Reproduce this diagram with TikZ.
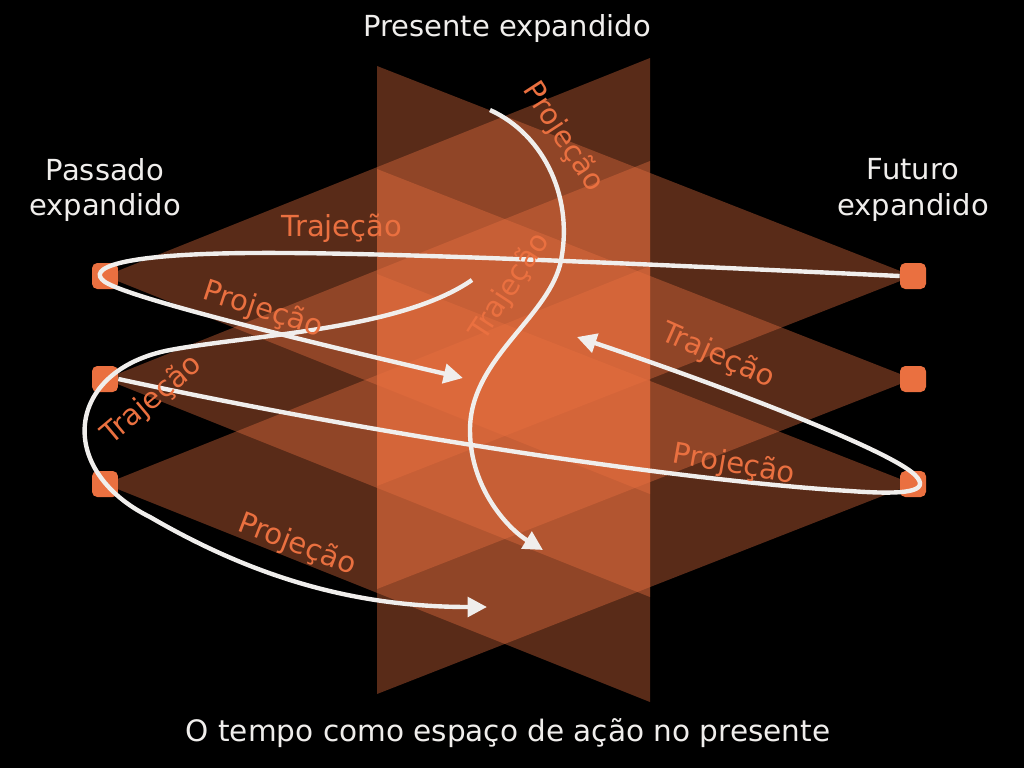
\documentclass[tikz,border=0pt]{standalone}
\usepackage{fontspec}
\setmainfont{DejaVu Sans}
\definecolor{ember}{RGB}{234,112,64}
\definecolor{chalk}{RGB}{240,238,236}
\usetikzlibrary{arrows.meta}

\begin{document}
\begin{tikzpicture}[x=0.02cm, y=-0.02cm,
  dot/.style={fill=ember, rounded corners=3pt, minimum size=0.52cm, inner sep=0pt},
  cone/.style={fill=ember, fill opacity=0.385},
  lbl/.style={text=ember, font=\fontsize{16.5}{20}\selectfont, inner sep=0pt},
  head/.style={text=chalk, align=center, font=\fontsize{16.5}{20}\selectfont},
  flow/.style={draw=chalk, line width=2.5pt, -{Triangle[length=11pt,width=11pt]}}]
  % background
  \fill[black] (0,0) rectangle (1024,768);

  % cones from past and future
  \foreach \y in {276,379,484} {
    \fill[cone] (105,\y) -- (650,\y-218) -- (650,\y+218) -- cycle;
    \fill[cone] (913,\y) -- (377,\y-210) -- (377,\y+210) -- cycle;
  }

  % points
  \node[dot] (p1) at (105,276) {};
  \node[dot] (p2) at (105,379) {};
  \node[dot] (p3) at (105,484) {};
  \node[dot] (f1) at (913,276) {};
  \node[dot] (f2) at (913,379) {};
  \node[dot] (f3) at (913,484) {};

  % titles
  \node[head] (present) at (507,28) {Presente expandido};
  \node[head] (past) at (105,190) {Passado\\expandido};
  \node[head] (future) at (913,190) {Futuro\\expandido};
  \node[head, font=\fontsize{16.8}{20}\selectfont] (caption) at (508,733) {O tempo como espaço de ação no presente};

  % free ends
  \coordinate (e1) at (463,378);
  \coordinate (s2) at (472,280);
  \coordinate (e2) at (487,607);
  \coordinate (e3) at (577,337);
  \coordinate (s4) at (490,110);
  \coordinate (e4) at (543,550);

  % loops
  \draw[flow] (f1.west) .. controls (600,262) and (380,252) .. (250,253)
    .. controls (120,254) and (85,268) .. (105,282)
    .. controls (130,298) and (300,340) .. (e1);
  \draw[flow] (s2) .. controls (400,330) and (250,335) .. (170,350)
    .. controls (65,370) and (55,470) .. (150,517)
    .. controls (250,575) and (350,607) .. (e2);
  \draw[flow] (p2.east) .. controls (400,440) and (700,482) .. (850,491)
    .. controls (905,495) and (932,492) .. (915,475)
    .. controls (890,450) and (720,385) .. (e3);
  \draw[flow] (s4) .. controls (545,135) and (575,200) .. (560,265)
    .. controls (545,320) and (470,360) .. (470,430)
    .. controls (470,490) and (510,530) .. (e4);

  % labels
  \node[lbl] (t1) at (342,228) {Trajeção};
  \node[lbl, rotate=-18] (r1) at (263,310) {Projeção};
  \node[lbl, rotate=40] (t2) at (152,400) {Trajeção};
  \node[lbl, rotate=-21] (r2) at (297,545) {Projeção};
  \node[lbl, rotate=-24] (t3) at (718,356) {Trajeção};
  \node[lbl, rotate=-10] (r3) at (734,465) {Projeção};
  \node[lbl, rotate=-57] (r4) at (563,137) {Projeção};
  \node[lbl, rotate=57] (t4) at (510,287) {Trajeção};
\end{tikzpicture}
\end{document}
